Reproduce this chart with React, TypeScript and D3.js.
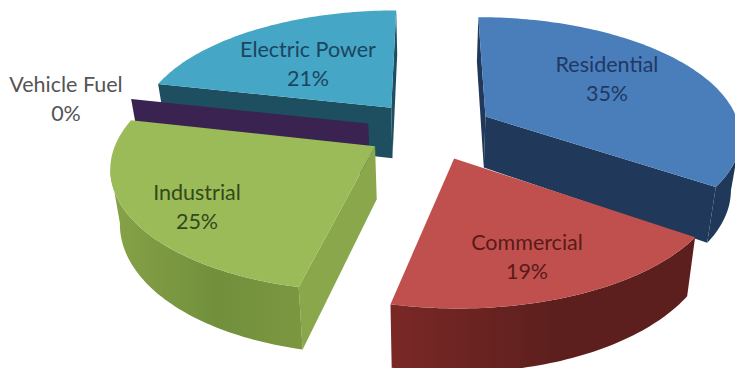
import React from "react";
import * as d3 from "d3";

// Natural-gas consumption shares by sector, clockwise from twelve o'clock.
const categories = ["Residential", "Commercial", "Industrial", "Vehicle Fuel", "Electric Power"];
const shares = [34.6, 18.9, 25.0, 0, 21.5];
const shareLabels = ["35%", "19%", "25%", "0%", "21%"];

const topColors = ["#4a7ebb", "#c0504d", "#9bbb59", "#3f2a5c", "#45a6c6"];
const radialWallColors = ["#20385a", "#632523", "#8aa74c", "#3a2350", "#1e4f60"];
const rimStops = [
  ["#20385a", "#20385a", "#20385a"],
  ["#7a2826", "#5c1f1d", "#5c1f1d"],
  ["#86a348", "#728f3c", "#7b9740"],
  ["#3a2350", "#3a2350", "#3a2350"],
  ["#1e4f60", "#1e4f60", "#1e4f60"],
];
const labelColors = ["#1f3864", "#5a1a18", "#33481a", "#555555", "#1b4560"];
const labelCenters: [number, number][] = [
  [607, 72],
  [527, 250],
  [197, 200],
  [66, 92],
  [308, 57],
];
// Back-to-front painting order of the wedges.
const paintOrder = [4, 3, 0, 2, 1];

const WIDTH = 735;
const HEIGHT = 368;
const CX = 430;
const CY = 130;
const RADIUS_X = 255;
const RADIUS_Y = 118;
const PERSPECTIVE = 0.15;
const DEPTH = 52;
const TAPER = 0.03;
const EXPLODE = 0.25;
const LINE_GAP = 28.5;

type Pt = [number, number];

// Maps a point on the unit pie plane (y towards the viewer) to the screen;
// points lower on the extruded wall converge slightly towards the centre.
const project = (x: number, y: number, drop = 0): Pt => {
  const s = 1 / (1 - PERSPECTIVE * y);
  const taper = 1 - (TAPER * drop) / DEPTH;
  return [CX + RADIUS_X * x * s * taper, CY + RADIUS_Y * y * s + drop * s];
};

const slices = d3
  .pie<number>()
  .sort(null)
  .startAngle(0)
  .endAngle(2 * Math.PI)(shares);

const lineGen = d3.line<Pt>();

const wedgeOutline = (start: number, end: number) => {
  const mid = (start + end) / 2;
  const ox = EXPLODE * Math.sin(mid);
  const oy = -EXPLODE * Math.cos(mid);
  const steps = Math.max(2, Math.ceil((end - start) / 0.02));
  const arc = d3.range(steps + 1).map((i) => {
    const a = start + ((end - start) * i) / steps;
    return [ox + Math.sin(a), oy - Math.cos(a)] as Pt;
  });
  return { apex: [ox, oy] as Pt, arc };
};

// Extrudes a run of plane points downward into a closed wall polygon.
const wall = (run: Pt[]) => {
  const top = run.map(([x, y]) => project(x, y));
  const bottom = run.map(([x, y]) => project(x, y, DEPTH)).reverse();
  return lineGen([...top, ...bottom]) + "Z";
};

const facesViewer = (a: Pt, b: Pt) => project(b[0], b[1])[0] < project(a[0], a[1])[0];

export default function App() {
  return (
    <svg
      width={WIDTH}
      height={HEIGHT}
      style={{ position: "absolute", left: 0, top: 0, background: "#fff" }}
      fontFamily="Lato, 'Open Sans', sans-serif"
    >
      <defs>
        {rimStops.map(([from, mid, to], i) => (
          <linearGradient key={i} id={`rim-${i}`} x1="0" x2="1" y1="0" y2="0">
            <stop offset="0" stopColor={from} />
            <stop offset="0.55" stopColor={mid} />
            <stop offset="1" stopColor={to} />
          </linearGradient>
        ))}
      </defs>
      {paintOrder.map((i) => {
        const s = slices[i];
        const { apex, arc } = wedgeOutline(s.startAngle, s.endAngle);
        const first = arc[0];
        const last = arc[arc.length - 1];
        const rim = arc.filter((p, k) => {
          const next = arc[k + 1];
          const prev = arc[k - 1];
          return (next && facesViewer(p, next)) || (prev && facesViewer(prev, p));
        });
        const topPath =
          lineGen([project(apex[0], apex[1]), ...arc.map(([x, y]) => project(x, y))]) + "Z";
        return (
          <g key={categories[i]}>
            {facesViewer(last, apex) && (
              <path d={wall([last, apex])} fill={radialWallColors[i]} />
            )}
            {facesViewer(apex, first) && (
              <path d={wall([apex, first])} fill={radialWallColors[i]} />
            )}
            {rim.length > 1 && s.value > 0 && <path d={wall(rim)} fill={`url(#rim-${i})`} />}
            {s.value > 0 && <path d={topPath} fill={topColors[i]} />}
          </g>
        );
      })}
      {categories.map((name, i) => (
        <text
          key={name}
          x={labelCenters[i][0]}
          y={labelCenters[i][1]}
          textAnchor="middle"
          fontSize={21.5}
          fill={labelColors[i]}
        >
          <tspan x={labelCenters[i][0]}>{name}</tspan>
          <tspan x={labelCenters[i][0]} dy={LINE_GAP}>
            {shareLabels[i]}
          </tspan>
        </text>
      ))}
    </svg>
  );
}
